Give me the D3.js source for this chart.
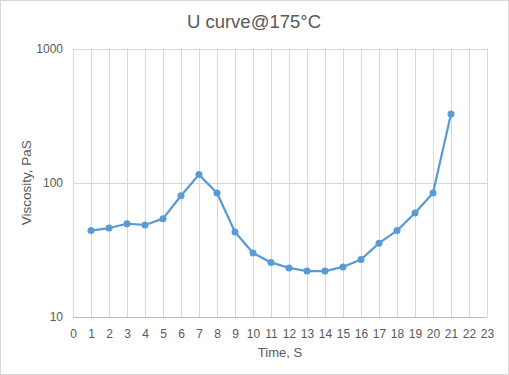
<!DOCTYPE html>
<html>
<head>
<meta charset="utf-8">
<title>U curve</title>
<script src="https://d3js.org/d3.v7.min.js"></script>
<style>
  body { margin: 0; background: #fff; }
  text { font-family: Arial, "Liberation Sans", sans-serif; fill: #595959; }
</style>
</head>
<body>
<svg id="chart" width="509" height="375"></svg>
<script>
// data
var times = [1, 2, 3, 4, 5, 6, 7, 8, 9, 10, 11, 12, 13, 14, 15, 16, 17, 18, 19, 20, 21];
var viscosity = [44, 46, 49.5, 48.5, 54, 80, 115, 84, 43, 30, 25.5, 23.2, 22, 22, 23.6, 26.8, 35.5, 44, 59.5, 84, 325];
var xTicks = d3.range(0, 24);
var yTicks = [10, 100, 1000];

var svg = d3.select("#chart");
var margin = { left: 73, right: 22, top: 48.5, bottom: 58 };
var W = 509, H = 375;

// chart border
svg.append("rect")
  .attr("x", 0.5).attr("y", 0.5)
  .attr("width", W - 1).attr("height", H - 1)
  .attr("fill", "#fff").attr("stroke", "#D9D9D9");

var x = d3.scaleLinear().domain([0, 23]).range([margin.left, W - margin.right]);
var y = d3.scaleLog().domain([10, 1000]).range([H - margin.bottom, margin.top]);

// gridlines
svg.append("g").selectAll("line.v")
  .data(xTicks).enter().append("line")
  .attr("x1", function(d){ return Math.round(x(d)) + 0.5; })
  .attr("x2", function(d){ return Math.round(x(d)) + 0.5; })
  .attr("y1", y(1000)).attr("y2", y(10))
  .attr("stroke", "#D9D9D9");

svg.append("g").selectAll("line.h")
  .data(yTicks).enter().append("line")
  .attr("x1", x(0)).attr("x2", x(23))
  .attr("y1", function(d){ return Math.round(y(d)) + 0.5; })
  .attr("y2", function(d){ return Math.round(y(d)) + 0.5; })
  .attr("stroke", "#D9D9D9");

// axes
var yAxis = d3.axisLeft(y).tickValues(yTicks).tickFormat(d3.format("d")).tickSize(0).tickPadding(10);
var gy = svg.append("g").attr("transform", "translate(" + x(0) + ",0)").call(yAxis);
gy.select(".domain").attr("stroke", "#D9D9D9");
gy.selectAll("text").style("font-size", "12px").attr("fill", "#595959");

var xAxis = d3.axisBottom(x).tickValues(xTicks).tickFormat(d3.format("d")).tickSize(0).tickPadding(12);
var gx = svg.append("g").attr("transform", "translate(0," + y(10) + ")").call(xAxis);
gx.select(".domain").attr("stroke", "#BFBFBF");
gx.selectAll("text").style("font-size", "12px").attr("fill", "#595959");

// line + markers
var pts = times.map(function(t, i){ return { t: t, v: viscosity[i] }; });
svg.append("path")
  .datum(pts)
  .attr("fill", "none")
  .attr("stroke", "#5B9BD5")
  .attr("stroke-width", 2.25)
  .attr("stroke-linejoin", "round")
  .attr("d", d3.line().x(function(d){ return x(d.t); }).y(function(d){ return y(d.v); }));

svg.append("g").selectAll("circle")
  .data(pts).enter().append("circle")
  .attr("cx", function(d){ return x(d.t); })
  .attr("cy", function(d){ return y(d.v); })
  .attr("r", 3.5)
  .attr("fill", "#5B9BD5");

// titles
svg.append("text")
  .attr("x", 254).attr("y", 28)
  .attr("text-anchor", "middle")
  .style("font-size", "18.5px")
  .text("U curve@175°C");

svg.append("text")
  .attr("x", (x(0) + x(23)) / 2).attr("y", 357)
  .attr("text-anchor", "middle")
  .style("font-size", "13px")
  .text("Time, S");

svg.append("text")
  .attr("transform", "translate(31," + (y(10) + y(1000)) / 2 + ") rotate(-90)")
  .attr("text-anchor", "middle")
  .style("font-size", "13.5px")
  .text("Viscosity, PaS");
</script>
</body>
</html>
